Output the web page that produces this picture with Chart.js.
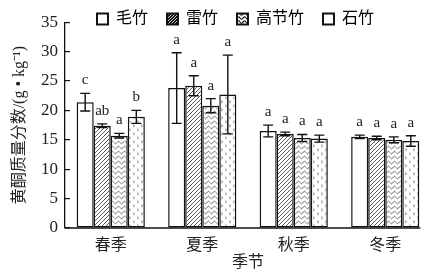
<!DOCTYPE html>
<html><head><meta charset="utf-8">
<script src="https://cdn.jsdelivr.net/npm/chart.js@4"></script>
<style>html,body{margin:0;padding:0;background:#fff;overflow:hidden;width:428px;height:277px}canvas{display:block}</style>
</head><body>
<canvas id="c" width="440" height="277"></canvas>
<script>
// ---- data ----
const seasons = ['春季','夏季','秋季','冬季'];
const species = ['毛竹','雷竹','高节竹','石竹'];
const maozhu = [21.4, 23.8, 16.5, 15.5];
const maozhuErr = [1.5, 6.0, 1.0, 0.3];
const leizhu = [17.4, 24.2, 16.0, 15.3];
const leizhuErr = [0.3, 1.7, 0.3, 0.3];
const gaojiezhu = [15.7, 20.8, 15.3, 15.0];
const gaojiezhuErr = [0.4, 1.2, 0.6, 0.5];
const shizhu = [18.9, 22.7, 15.2, 14.8];
const shizhuErr = [1.1, 6.7, 0.6, 0.9];
const maozhuSig = ['c','a','a','a'];
const leizhuSig = ['ab','a','a','a'];
const gaojiezhuSig = ['a','a','a','a'];
const shizhuSig = ['b','a','a','a'];
const yTicks = [0,5,10,15,20,25,30,35];
const xTitle = '季节';
const yTitle = '黄酮质量分数/(g • kg⁻¹)';

// ---- patterns ----
const pctx = document.createElement('canvas').getContext('2d');
function makePattern(w,h,draw){
  const c=document.createElement('canvas'); c.width=w; c.height=h;
  const g=c.getContext('2d'); draw(g,w,h);
  return pctx.createPattern(c,'repeat');
}
const hatch = makePattern(4,4,(g,w,h)=>{
  g.fillStyle='#fff'; g.fillRect(0,0,w,h);
  g.strokeStyle='#444'; g.lineWidth=0.9;
  g.beginPath(); g.moveTo(-1,5); g.lineTo(5,-1); g.moveTo(-1,1); g.lineTo(1,-1); g.moveTo(3,5); g.lineTo(5,3); g.stroke();
});
const wave = makePattern(6,5,(g,w,h)=>{
  g.fillStyle='#fff'; g.fillRect(0,0,w,h);
  g.strokeStyle='#555'; g.lineWidth=0.9;
  g.beginPath();
  for(let x=0;x<=6;x+=0.5){ const y=2.5+1.3*Math.sin(2*Math.PI*x/6); if(x===0) g.moveTo(x,y); else g.lineTo(x,y);} g.stroke();
});
const chev = makePattern(8,8,(g,w,h)=>{
  g.fillStyle='#fff'; g.fillRect(0,0,w,h);
  g.strokeStyle='#777'; g.lineWidth=0.8;
  g.beginPath(); g.moveTo(1,0.5); g.lineTo(2.8,1.8); g.lineTo(1,3.1);
  g.moveTo(5,4.5); g.lineTo(6.8,5.8); g.lineTo(5,7.1); g.stroke();
});
const lgHatch = makePattern(3,3,(g,w,h)=>{
  g.fillStyle='#111'; g.fillRect(0,0,w,h);
  g.strokeStyle='#fff'; g.lineWidth=0.8;
  g.beginPath(); g.moveTo(-1,4); g.lineTo(4,-1); g.stroke();
});
const lgWave = makePattern(6,4,(g,w,h)=>{
  g.fillStyle='#fff'; g.fillRect(0,0,w,h);
  g.strokeStyle='#111'; g.lineWidth=1.2;
  g.beginPath();
  for(let x=0;x<=6;x+=0.5){ const y=2+1.2*Math.sin(2*Math.PI*x/6); if(x===0) g.moveTo(x,y); else g.lineTo(x,y);} g.stroke();
});
const fills = ['#fff', hatch, wave, chev];
const legendFills = ['#fff', lgHatch, lgWave, '#fff'];

const F = "'Liberation Serif','Noto Sans CJK SC',serif";
const values = [maozhu, leizhu, gaojiezhu, shizhu];
const errs = [maozhuErr, leizhuErr, gaojiezhuErr, shizhuErr];
const sigs = [maozhuSig, leizhuSig, gaojiezhuSig, shizhuSig];

const datasets = species.map((s,i)=>({
  label:s, data:values[i], errors:errs[i], sig:sigs[i],
  backgroundColor: fills[i], borderColor:'#111', borderWidth:1.5, borderSkipped:false,
  categoryPercentage:0.745, barPercentage:1
}));

const LEG_PAD = 19;
const extras = {
  id:'extras',
  beforeLayout(chart){
    const lg = chart.legend;
    if(lg && !lg._zeroFit){
      const orig = lg.fit.bind(lg);
      lg.fit = function(){ orig(); this.height = 0; };
      lg._zeroFit = true;
    }
  },
  afterLayout(chart){
    const lg = chart.legend; if(!lg) return;
    lg.left = 97 - LEG_PAD; lg.right = 440;
    lg.top = -8; lg.bottom = 40;
  },
  afterDatasetsDraw(chart){
    const ctx = chart.ctx, ys = chart.scales.y;
    ctx.save();
    ctx.strokeStyle='#111'; ctx.lineWidth=1.4;
    ctx.fillStyle='#222'; ctx.font = "15px "+F; ctx.textAlign='center'; ctx.textBaseline='middle';
    let lastRight = chart.chartArea.left;
    chart.data.datasets.forEach((ds,i)=>{
      const meta = chart.getDatasetMeta(i);
      meta.data.forEach((bar,j)=>{
        const v = ds.data[j], e = ds.errors[j];
        const x = bar.x, t = ys.getPixelForValue(v+e), b = ys.getPixelForValue(v-e);
        ctx.beginPath();
        ctx.moveTo(x,t); ctx.lineTo(x,b);
        ctx.moveTo(x-5,t); ctx.lineTo(x+5,t);
        ctx.moveTo(x-5,b); ctx.lineTo(x+5,b);
        ctx.stroke();
        ctx.fillText(ds.sig[j], x, t-13);
        lastRight = Math.max(lastRight, bar.x + bar.width/2);
      });
    });
    const by = ys.getPixelForValue(0);
    ctx.lineWidth=1.3;
    ctx.beginPath(); ctx.moveTo(chart.chartArea.left, by); ctx.lineTo(lastRight+1, by); ctx.stroke();
    ctx.restore();
  }
};

new Chart(document.getElementById('c'), {
  type:'bar',
  data:{ labels:seasons, datasets },
  options:{
    responsive:false, animation:false, devicePixelRatio:1,
    layout:{ padding:{ top:18, right:9, left:0, bottom:0 } },
    plugins:{
      tooltip:{enabled:false},
      legend:{
        position:'top', align:'start',
        labels:{
          boxWidth:11, boxHeight:11, padding:LEG_PAD, color:'#222',
          font:{size:16, family:F},
          generateLabels: chart => chart.data.datasets.map((ds,i)=>({
            text: ds.label, fillStyle: legendFills[i], strokeStyle:'#111', lineWidth:2, hidden:false, datasetIndex:i
          }))
        }
      }
    },
    scales:{
      x:{
        grid:{display:false, drawTicks:false}, border:{display:false},
        ticks:{font:{size:16, family:F}, color:'#222', padding:8},
        title:{display:true, text:xTitle, font:{size:16, family:F}, color:'#222', padding:{top:0,bottom:5}},
        afterFit(s){ s.height = 49; }
      },
      y:{
        min:0, max:35,
        afterBuildTicks(s){ s.ticks = yTicks.map(v=>({value:v})); },
        ticks:{font:{size:17, family:F}, color:'#222', padding:12},
        grid:{drawOnChartArea:false, drawTicks:true, tickLength:-5, color:'#111', lineWidth:1.2},
        border:{display:true, color:'#111', width:1.3},
        title:{display:true, text:yTitle, font:{size:16, family:F}, color:'#222', padding:{top:10,bottom:0}},
        afterFit(s){ s.width = 65; }
      }
    }
  },
  plugins:[extras]
});
</script>
</body></html>
